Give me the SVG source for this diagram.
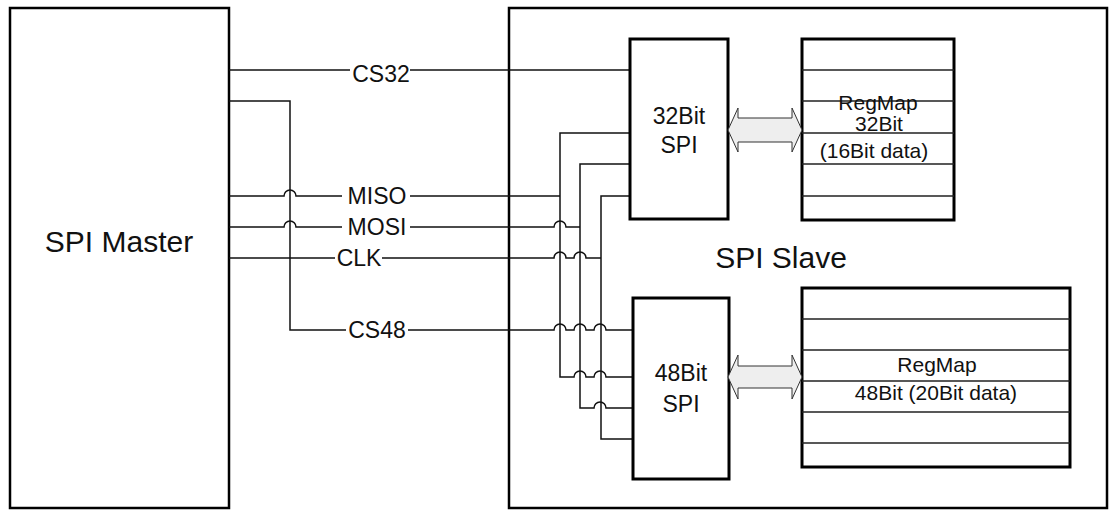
<svg xmlns="http://www.w3.org/2000/svg" width="1118" height="510" viewBox="0 0 1118 510">
<style>
.box{fill:#fff;stroke:#000;stroke-width:3}
.big{fill:#fff;stroke:#000;stroke-width:2.5}
.row{stroke:#222;stroke-width:1.5}
.w{fill:none;stroke:#111;stroke-width:1.5}
.bg{fill:#fff}
.arr{fill:#eeeeee;stroke:#333;stroke-width:1}
text{font-family:"Liberation Sans",Arial,sans-serif;fill:#111;text-anchor:middle}
.t30{font-size:30px}
.t22{font-size:23px}
.t21{font-size:21px}
</style>
<rect width="1118" height="510" fill="#fff"/>
<g id="spi-master">
<rect class="big" x="10" y="8" width="219" height="500"/>
<text class="t30" x="119" y="252">SPI Master</text>
</g>
<g id="spi-slave">
<rect class="big" x="509" y="8" width="598" height="500"/>
<text class="t30" x="781" y="268">SPI Slave</text>
</g>
<g id="connectors">
<path class="w" d="M229,70 H630"/>
<path class="w" d="M229,101 H290 V330 H554 a6,6 0 0 1 12,0 H574 a6,6 0 0 1 12,0 H594 a6,6 0 0 1 12,0 H633"/>
<path class="w" d="M229,196 H284 a6,6 0 0 1 12,0 H560"/>
<path class="w" d="M229,227 H284 a6,6 0 0 1 12,0 H554 a6,6 0 0 1 12,0 H580"/>
<path class="w" d="M229,258 H554 a6,6 0 0 1 12,0 H574 a6,6 0 0 1 12,0 H601"/>
<path class="w" d="M630,133 H560 V377 H574 a6,6 0 0 1 12,0 H594 a6,6 0 0 1 12,0 H633"/>
<path class="w" d="M630,164 H580 V408 H594 a6,6 0 0 1 12,0 H633"/>
<path class="w" d="M630,196 H601 V439 H633"/>
<rect class="bg" x="350" y="58" width="60" height="26"/>
<text class="t22" x="381" y="82">CS32</text>
<rect class="bg" x="342" y="184" width="68" height="24"/>
<text class="t22" x="377" y="204">MISO</text>
<rect class="bg" x="342" y="215" width="68" height="24"/>
<text class="t22" x="377" y="235">MOSI</text>
<rect class="bg" x="335" y="246" width="47" height="24"/>
<text class="t22" x="359" y="266">CLK</text>
<rect class="bg" x="346" y="318" width="62" height="24"/>
<text class="t22" x="377" y="338">CS48</text>
</g>
<g id="spi32">
<rect class="box" x="630" y="39" width="98" height="180"/>
<text class="t22" x="679" y="124">32Bit</text>
<text class="t22" x="679" y="153">SPI</text>
</g>
<g id="regmap32">
<rect class="box" x="802" y="39" width="152" height="181"/>
<path class="row" d="M802,70 H954 M802,101 H954 M802,133 H954 M802,164 H954 M802,196 H954"/>
<text class="t21" x="878" y="110">RegMap</text>
<text class="t21" x="879" y="131">32Bit</text>
<text class="t21" x="874" y="158">(16Bit data)</text>
</g>
<g id="spi48">
<rect class="box" x="633" y="298" width="96" height="181"/>
<text class="t22" x="681" y="381">48Bit</text>
<text class="t22" x="681" y="412">SPI</text>
</g>
<g id="regmap48">
<rect class="box" x="802" y="288" width="268" height="179"/>
<path class="row" d="M802,319 H1070 M802,350 H1070 M802,381 H1070 M802,412 H1070 M802,443 H1070"/>
<text class="t21" x="937" y="372">RegMap</text>
<text class="t21" x="936" y="400">48Bit (20Bit data)</text>
</g>
<g id="bus-arrows">
<polygon class="arr" points="728,130 738,108 738,118 792,118 792,108 802,130 792,152 792,142 738,142 738,152"/>
<polygon class="arr" points="728,377 738,355 738,366 792,366 792,355 802,377 792,399 792,388 738,388 738,399"/>
</g>
</svg>
